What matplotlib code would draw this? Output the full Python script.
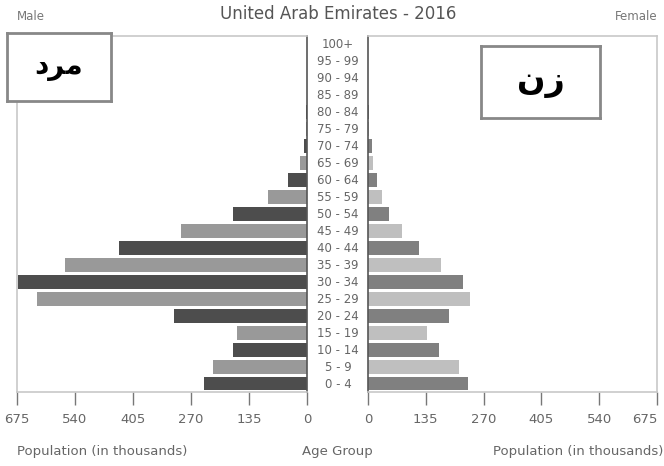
import numpy as np
import matplotlib
matplotlib.use("Agg")
import matplotlib.pyplot as plt

# age groups, bottom to top
age_groups = ["0 - 4", "5 - 9", "10 - 14", "15 - 19", "20 - 24", "25 - 29",
              "30 - 34", "35 - 39", "40 - 44", "45 - 49", "50 - 54", "55 - 59",
              "60 - 64", "65 - 69", "70 - 74", "75 - 79", "80 - 84", "85 - 89",
              "90 - 94", "95 - 99", "100+"]
male = [240, 219, 172, 163, 310, 628, 672, 563, 437, 293, 172, 91,
        44, 16, 7, 3, 1.5, 0.8, 0.3, 0.1, 0.05]
female = [234, 212, 166, 138, 189, 239, 223, 170, 119, 79, 50, 33,
          21, 12, 9, 3, 1.5, 0.7, 0.3, 0.1, 0.05]
xticks = [0, 135, 270, 405, 540, 675]

# Arabic labels in presentation forms (visual order) since matplotlib does no shaping
label_male = "\uFEA9\uFEAE\uFEE3"    # مرد
label_female = "\uFEE5\uFEAF"        # زن

W, H = 664, 466
fig = plt.figure(figsize=(W / 100, H / 100), dpi=100)

def box(x0, y0, x1, y1):
    return [x0 / W, 1 - y1 / H, (x1 - x0) / W, (y1 - y0) / H]

axL = fig.add_axes(box(17, 36, 307, 392))
axR = fig.add_axes(box(368, 36, 657, 392))

y = np.arange(len(age_groups))
m_cols = ["#4d4d4d" if i % 2 == 0 else "#999999" for i in y]
f_cols = ["#808080" if i % 2 == 0 else "#bfbfbf" for i in y]

axL.barh(y, male, height=0.82, color=m_cols)
axR.barh(y, female, height=0.82, color=f_cols)

for ax in (axL, axR):
    ax.set_ylim(-0.5, 20.5)
    ax.set_xticks(xticks)
    ax.set_yticks([])
    ax.tick_params(axis="x", direction="out", length=9, width=1,
                   color="#777777", labelcolor="#666666", labelsize=9.5, pad=6)
    for s in ax.spines.values():
        s.set_color("#c8c8c8")
        s.set_linewidth(1.2)
axL.set_xlim(675, 0)
axR.set_xlim(0, 675)
axL.spines["right"].set_color("#555555")
axR.spines["left"].set_color("#555555")
axR.get_xticklabels()[-1].set_horizontalalignment("right")
axR.get_xticklabels()[-1].set_x(675)

# age group labels between panels
for i, lab in enumerate(age_groups):
    fig.text(338 / W, 1 - (384 - i * 16.95) / H, lab, ha="center", va="center",
             fontsize=8.5, color="#666666")

fig.text(338 / W, 1 - 14 / H, "United Arab Emirates - 2016", ha="center", va="center",
         fontsize=12, color="#555555")
fig.text(17 / W, 1 - 16 / H, "Male", ha="left", va="center", fontsize=8.5, color="#777777")
fig.text(657 / W, 1 - 16 / H, "Female", ha="right", va="center", fontsize=8.5, color="#777777")
fig.text(17 / W, 1 - 452 / H, "Population (in thousands)", ha="left", va="center",
         fontsize=9.5, color="#666666")
fig.text(337 / W, 1 - 452 / H, "Age Group", ha="center", va="center",
         fontsize=9.5, color="#666666")
fig.text(663 / W, 1 - 452 / H, "Population (in thousands)", ha="right", va="center",
         fontsize=9.5, color="#666666")

# boxed Arabic labels
for (x0, y0, x1, y1), txt, fs in [((7, 33, 111, 101), label_male, 20),
                                  ((481, 46, 600, 118), label_female, 24)]:
    bx = fig.add_axes(box(x0, y0, x1, y1))
    bx.set_xticks([])
    bx.set_yticks([])
    bx.set_facecolor("white")
    for s in bx.spines.values():
        s.set_color("#888888")
        s.set_linewidth(2)
    bx.text(0.5, 0.5, txt, ha="center", va="center", fontsize=fs,
            fontweight="bold", family="DejaVu Sans", transform=bx.transAxes)

fig.savefig("out.png", dpi=100)
